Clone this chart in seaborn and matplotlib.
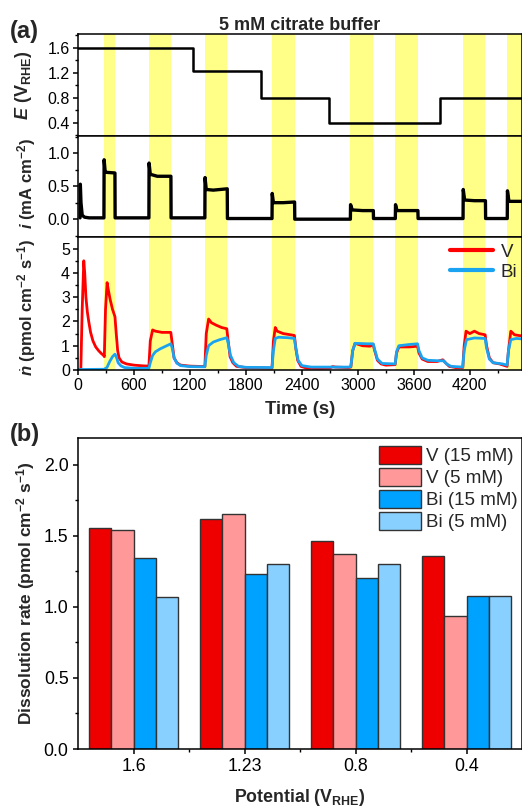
import numpy as np
import pandas as pd
import matplotlib
matplotlib.use("Agg")
import matplotlib.pyplot as plt
from matplotlib.ticker import MultipleLocator, FormatStrFormatter
import seaborn as sns

# ---------------- (a) transient experiment ----------------
# illumination windows (s)
light_on = [280, 760, 1360, 2080, 2920, 3400, 4130, 4600]
light_off = [396, 996, 1600, 2322, 3166, 3644, 4368, 4840]

# applied potential programme
E_time = [0, 1235, 1235, 1960, 1960, 2690, 2690, 3885, 3885, 4760]
E_value = [1.6, 1.6, 1.23, 1.23, 0.8, 0.8, 0.4, 0.4, 0.8, 0.8]

# current density (mA cm-2)
i_time = [22, 25, 32, 45, 70, 120, 278, 280, 290, 300, 396, 398,
          760, 762, 775, 850, 996, 998, 1360, 1362, 1375, 1450, 1600, 1602,
          2080, 2082, 2095, 2200, 2322, 2324, 2920, 2922, 2940, 3050, 3166, 3168,
          3402, 3404, 3420, 3644, 3646, 4128, 4130, 4145, 4250, 4368, 4370,
          4602, 4604, 4620, 4760]
i_value = [0.02, 0.53, 0.25, 0.06, 0.03, 0.02, 0.02, 0.9, 0.74, 0.71, 0.7, 0.02,
           0.02, 0.85, 0.68, 0.65, 0.65, 0.02, 0.02, 0.63, 0.45, 0.44, 0.46, 0.01,
           0.01, 0.39, 0.25, 0.25, 0.26, 0.0, 0.0, 0.22, 0.14, 0.13, 0.13, 0.01,
           0.01, 0.22, 0.13, 0.13, 0.01, 0.01, 0.45, 0.29, 0.28, 0.28, 0.01,
           0.01, 0.43, 0.27, 0.27]

# V dissolution rate (pmol cm-2 s-1)
V_time = [0, 30, 45, 62, 72, 85, 100, 115, 135, 160, 190, 220, 250, 275, 282,
          295, 312, 325, 345, 370, 396, 410, 425, 440, 470, 520, 600, 700, 760,
          775, 800, 830, 900, 960, 995, 1010, 1030, 1060, 1100, 1200, 1360,
          1375, 1400, 1430, 1480, 1540, 1595, 1610, 1630, 1660, 1700, 1800, 2080,
          2095, 2115, 2135, 2200, 2280, 2320, 2335, 2355, 2390, 2450, 2600, 2700,
          2730, 2760, 2900, 2925, 2945, 2970, 3050, 3130, 3165, 3180, 3210, 3250,
          3300, 3400, 3415, 3440, 3550, 3640, 3655, 3690, 3750, 3850, 3910, 3940,
          3980, 4050, 4125, 4140, 4160, 4200, 4250, 4300, 4365, 4380, 4410, 4450,
          4520, 4600, 4615, 4640, 4680, 4760]
V_rate = [0.0, 0.0, 2.5, 4.5, 4.0, 3.0, 2.4, 2.0, 1.55, 1.2, 0.95, 0.8, 0.68, 0.6, 0.55,
          2.5, 3.6, 3.3, 2.9, 2.5, 2.2, 1.5, 0.8, 0.5, 0.33, 0.25, 0.2, 0.17, 0.16,
          1.2, 1.65, 1.6, 1.55, 1.55, 1.55, 1.1, 0.5, 0.3, 0.2, 0.16, 0.14,
          1.5, 2.1, 1.95, 1.85, 1.75, 1.7, 1.2, 0.55, 0.3, 0.15, 0.1, 0.08,
          1.2, 1.75, 1.6, 1.5, 1.45, 1.42, 0.9, 0.4, 0.15, 0.08, 0.07, 0.08,
          0.14, 0.12, 0.1, 0.12, 0.8, 1.1, 1.0, 0.98, 1.05, 0.8, 0.4, 0.25,
          0.2, 0.22, 0.7, 0.95, 0.95, 0.98, 0.7, 0.45, 0.35, 0.35, 0.42, 0.3,
          0.15, 0.1, 0.1, 1.0, 1.6, 1.5, 1.6, 1.5, 1.45, 1.0, 0.5, 0.3,
          0.25, 0.15, 0.8, 1.6, 1.45, 1.4]

# Bi dissolution rate (pmol cm-2 s-1)
Bi_time = [0, 280, 310, 340, 370, 396, 410, 430, 460, 500, 600, 760,
           775, 800, 830, 880, 940, 995, 1010, 1030, 1060, 1100, 1200, 1360,
           1375, 1400, 1450, 1520, 1595, 1610, 1635, 1670, 1720, 1800, 2080,
           2095, 2115, 2150, 2250, 2320, 2335, 2360, 2400, 2500, 2900, 2925,
           2945, 2970, 3100, 3165, 3180, 3210, 3260, 3400, 3415, 3440, 3550,
           3640, 3655, 3690, 3750, 3870, 3920, 3950, 4000, 4125, 4140, 4165,
           4250, 4365, 4380, 4410, 4450, 4550, 4600, 4615, 4640, 4700, 4760]
Bi_rate = [0.02, 0.03, 0.1, 0.35, 0.55, 0.65, 0.55, 0.3, 0.17, 0.1, 0.07, 0.07,
           0.3, 0.6, 0.75, 0.87, 0.98, 1.08, 0.9, 0.5, 0.28, 0.18, 0.14, 0.13,
           0.6, 1.0, 1.15, 1.25, 1.33, 1.1, 0.6, 0.3, 0.15, 0.11, 0.1,
           0.8, 1.3, 1.35, 1.33, 1.3, 0.9, 0.4, 0.18, 0.12, 0.12, 0.14,
           0.8, 1.1, 1.08, 1.08, 0.85, 0.45, 0.27, 0.25, 0.75, 1.0, 1.05,
           1.08, 0.8, 0.5, 0.4, 0.38, 0.38, 0.25, 0.15, 0.12, 0.8, 1.25,
           1.32, 1.3, 0.9, 0.45, 0.3, 0.25, 0.2, 0.8, 1.25, 1.3, 1.28]

# ---------------- (b) mean dissolution rates ----------------
potentials = ["1.6", "1.23", "0.8", "0.4"]
series = ["V (15 mM)", "V (5 mM)", "Bi (15 mM)", "Bi (5 mM)"]
rate_V_15 = [1.555, 1.618, 1.465, 1.361]
rate_V_5 = [1.543, 1.654, 1.371, 0.936]
rate_Bi_15 = [1.345, 1.229, 1.203, 1.076]
rate_Bi_5 = [1.069, 1.300, 1.304, 1.078]
bar_colors = ["#EE0000", "#FF9999", "#00A2FF", "#88D0FF"]

# ---------------- styling ----------------
sns.set_theme(style="ticks")
plt.rcParams.update({
    "font.family": ["Liberation Sans", "DejaVu Sans"],
    "mathtext.fontset": "custom",
    "mathtext.rm": "Liberation Sans",
    "mathtext.it": "Liberation Sans:italic",
    "mathtext.bf": "Liberation Sans:bold",
    "mathtext.bfit": "Liberation Sans:italic:bold",
    "axes.linewidth": 1.1,
    "axes.edgecolor": "black",
    "xtick.color": "black",
    "ytick.color": "black",
    "xtick.direction": "out",
    "ytick.direction": "out",
    "xtick.major.size": 3.8,
    "ytick.major.size": 3.8,
    "xtick.minor.size": 2.2,
    "ytick.minor.size": 2.2,
    "xtick.major.width": 1.1,
    "ytick.major.width": 1.1,
    "xtick.minor.width": 1.0,
    "ytick.minor.width": 1.0,
})

W, H = 522, 810
fig = plt.figure(figsize=(W / 100, H / 100), dpi=100)


def px_axes(left, top, right, bottom):
    return fig.add_axes([left / W, 1 - bottom / H, (right - left) / W, (bottom - top) / H])


axE = px_axes(78, 34, 522, 136)
axI = px_axes(78, 136, 522, 237)
axN = px_axes(78, 237, 522, 370)
axB = px_axes(78, 438, 522, 749)

t_max = 4760
band_color = "#FFFF88"
for ax in (axE, axI, axN):
    for t0, t1 in zip(light_on, light_off):
        ax.axvspan(t0, t1, color=band_color, lw=0, zorder=0)
    ax.set_xlim(0, t_max)
    ax.xaxis.set_major_locator(MultipleLocator(600))
    ax.xaxis.set_minor_locator(MultipleLocator(300))
    ax.tick_params(axis="both", labelsize=11.5, pad=2)
    ax.tick_params(axis="x", which="both", top=False)
    ax.tick_params(axis="y", which="both", right=False)

for ax in (axE, axI):
    ax.tick_params(axis="x", which="both", bottom=False, labelbottom=False)

# potential
sns.lineplot(x=E_time, y=E_value, ax=axE, color="black", lw=1.8,
             sort=False, estimator=None)
axE.set_ylim(0.187, 1.82)
axE.yaxis.set_major_locator(MultipleLocator(0.4))
axE.yaxis.set_minor_locator(MultipleLocator(0.2))
axE.set_ylabel(r"$\mathbfit{E}$ (V$_\mathbf{RHE}$)", fontsize=13, fontweight="bold")
axE.yaxis.set_label_coords(-0.10, 0.5)
axE.set_title("5 mM citrate buffer", fontsize=13, fontweight="bold", pad=3)

# current density
sns.lineplot(x=i_time, y=i_value, ax=axI, color="black", lw=2.4,
             sort=False, estimator=None)
axI.set_ylim(-0.27, 1.26)
axI.yaxis.set_major_locator(MultipleLocator(0.5))
axI.yaxis.set_minor_locator(MultipleLocator(0.25))
axI.set_ylabel(r"$\mathbfit{i}$ (mA cm$^\mathbf{-2}$)", fontsize=12, fontweight="bold")
axI.yaxis.set_label_coords(-0.09, 0.53)

# dissolution rates
sns.lineplot(x=V_time, y=V_rate, ax=axN, color="#FF0000", lw=2.0,
             sort=False, estimator=None, label="V")
sns.lineplot(x=Bi_time, y=Bi_rate, ax=axN, color="#1AA3F0", lw=2.0,
             sort=False, estimator=None, label="Bi")
axN.set_ylim(0, 5.48)
axN.yaxis.set_major_locator(MultipleLocator(1))
axN.yaxis.set_minor_locator(MultipleLocator(0.5))
axN.set_ylabel(r"$\dot{\mathbfit{n}}$ (pmol cm$^\mathbf{-2}$ s$^\mathbf{-1}$)",
               fontsize=12, fontweight="bold")
axN.yaxis.set_label_coords(-0.09, 0.47)
axN.set_xlabel("Time (s)", fontsize=13.3, fontweight="bold", labelpad=6)
leg = axN.legend(loc="upper left", bbox_to_anchor=(0.838, 0.95), frameon=False,
                 fontsize=13.5, handlelength=2.3, handletextpad=0.4,
                 labelspacing=0.15, borderpad=0, borderaxespad=0)
for line in leg.get_lines():
    line.set_linewidth(3.0)

# ---------------- (b) bars ----------------
df = pd.DataFrame({
    "Potential": potentials * 4,
    "Series": [s for s in series for _ in potentials],
    "Rate": rate_V_15 + rate_V_5 + rate_Bi_15 + rate_Bi_5,
})
sns.barplot(data=df, x="Potential", y="Rate", hue="Series", order=potentials,
            hue_order=series, palette=bar_colors, edgecolor="#333333",
            linewidth=1.0, saturation=1, width=0.8, ax=axB)
axB.set_xlim(-0.5, 3.5)
axB.set_ylim(0, 2.19)
axB.yaxis.set_major_locator(MultipleLocator(0.5))
axB.yaxis.set_minor_locator(MultipleLocator(0.25))
axB.yaxis.set_major_formatter(FormatStrFormatter("%.1f"))
axB.set_xticks(range(len(potentials)))
axB.set_xticks([0.5, 1.5, 2.5], minor=True)
axB.tick_params(axis="both", labelsize=12.8, pad=3)
axB.tick_params(axis="x", which="both", top=False)
axB.tick_params(axis="y", which="both", right=False)
axB.set_xlabel(r"Potential (V$_\mathbf{RHE}$)", fontsize=12.8, fontweight="bold", labelpad=8)
axB.set_ylabel(r"Dissolution rate (pmol cm$^\mathbf{-2}$ s$^\mathbf{-1}$)",
               fontsize=12.5, fontweight="bold")
axB.yaxis.set_label_coords(-0.092, 0.5)
axB.legend(loc="upper left", bbox_to_anchor=(0.679, 0.973), frameon=False,
           fontsize=13.5, handlelength=2.2, handleheight=1.05, handletextpad=0.3,
           labelspacing=0.15, borderpad=0, borderaxespad=0)

fig.text(10 / W, 1 - 38 / H, "(a)", fontsize=17, fontweight="bold")
fig.text(10 / W, 1 - 441 / H, "(b)", fontsize=17, fontweight="bold")

fig.savefig("out.png", dpi=100)
